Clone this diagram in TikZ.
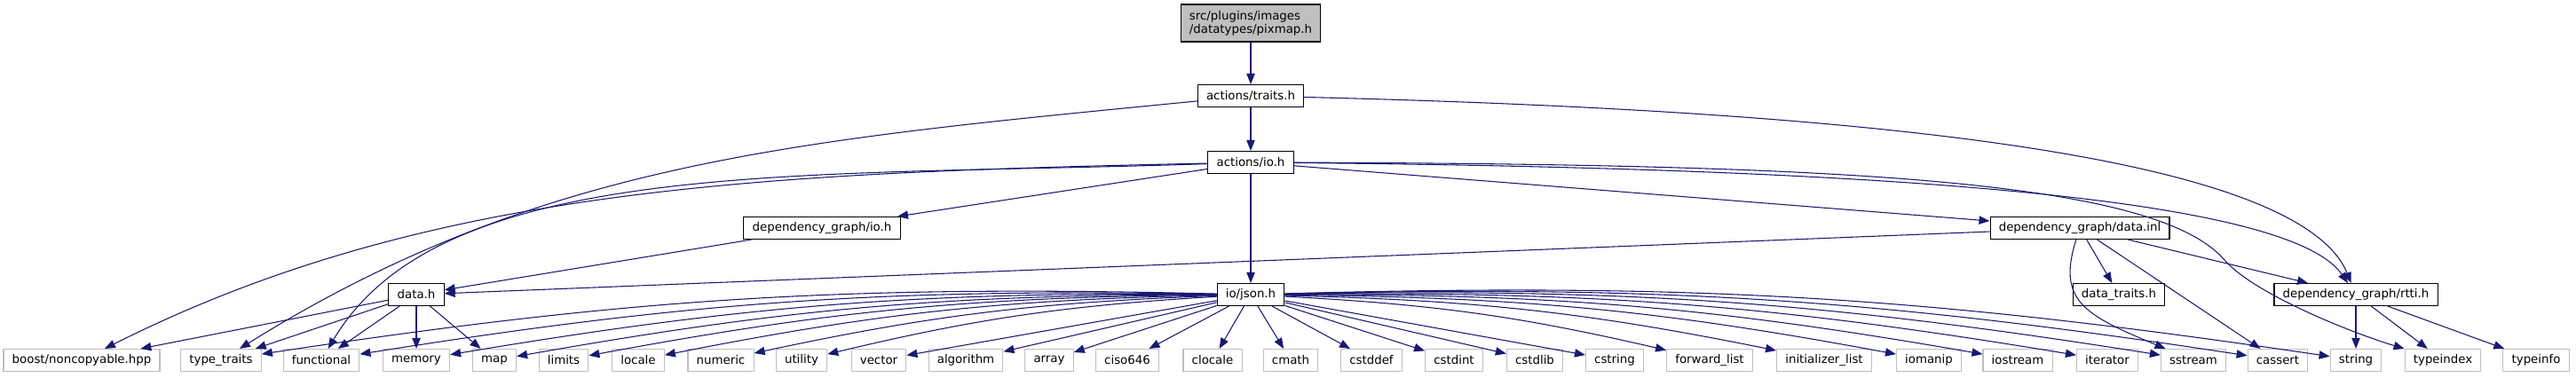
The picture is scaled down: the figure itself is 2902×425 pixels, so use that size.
\documentclass[tikz,border=0pt]{standalone}
\usepackage{fontspec}
\setmainfont{DejaVu Sans}
\usetikzlibrary{positioning,arrows.meta}
\definecolor{edg}{HTML}{191970}
\definecolor{sysl}{HTML}{BFBFBF}
\definecolor{cur}{HTML}{BFBFBF}
\tikzset{
  hfile/.style={draw, fill=white, line width=0.8pt, minimum height=18.75pt, inner xsep=7.3pt, inner ysep=0pt, font=\fontsize{10}{11.25}\selectfont},
  sysh/.style={hfile, draw=sysl},
  curh/.style={hfile, fill=cur, align=left, minimum height=31.5pt},
  inc/.style={draw=edg, line width=0.8pt, -{Triangle[length=9pt, width=7pt]}}}

\begin{document}
\begin{tikzpicture}[x=0.75pt, y=0.75pt]
\useasboundingbox (0,0) rectangle (2902,425);
% the file and the project headers
\node[curh] (pixmap) at (1409,399) {src/plugins/images\\/datatypes/pixmap.h};
\node[hfile] (traits) at (1409,317) {actions/traits.h};
\node[hfile] (io) at (1409,242) {actions/io.h};
\node[hfile] (dgio) at (926,168) {dependency\_graph/io.h};
\node[hfile] (dinl) at (2343,168) {dependency\_graph/data.inl};
\node[hfile] (datah) at (469,93) {data.h};
\node[hfile] (json) at (1409,93) {io/json.h};
\node[hfile] (dtraits) at (2387,93) {data\_traits.h};
\node[hfile] (rtti) at (2654,93) {dependency\_graph/rtti.h};
% system headers
\node[sysh] (boost) at (92,19) {boost/noncopyable.hpp};
\node[sysh] (tytr) at (249,19) {type\_traits};
\node[sysh] (fwdl) at (1926,19) {forward\_list};
\node[sysh] (initl) at (2055,19) {initializer\_list};
\foreach \t/\x in {functional/362, memory/469, map/557, limits/635, locale/719, numeric/812, utility/903, vector/990, algorithm/1088, array/1182, ciso646/1270, clocale/1366, cmath/1454, cstddef/1545, cstdint/1638, cstdlib/1729, cstring/1819, iomanip/2173, iostream/2273, iterator/2374, sstream/2471, cassert/2566, string/2654, typeindex/2752, typeinfo/2857}
  \node[sysh] (\t) at (\x,19) {\t};
% includes
\draw[inc] (pixmap) -- (traits);
\draw[inc] (traits) -- (io);
\draw[inc] (traits) .. controls +(-509,-50) and +(361,225) .. (tytr);
\draw[inc] (traits) .. controls +(691,-17) and +(-64,157) .. (rtti);
\draw[inc] (io) .. controls +(-559,-12) and +(388,195) .. (boost);
\draw[inc] (io) .. controls +(-509,-17) and +(136,230) .. (functional);
\draw[inc] (io) -- (dgio);
\draw[inc] (io) -- (json);
\draw[inc] (io) -- (dinl);
\draw[inc] (io) .. controls +(741,-7) and +(-74,107) .. (rtti);
\coordinate (bendidx) at (2506,132);
\draw[inc] (io) .. controls +(690,-2) and +(-76,88) .. (bendidx) .. controls +(34,-39) and +(-100,30) .. (typeindex);
\draw[inc] (dgio) -- (datah);
\draw[inc] (dinl) -- (datah);
\draw[inc] (dinl) -- (dtraits);
\draw[inc] (dinl) .. controls +(-26,-82) and +(-123,51) .. (sstream);
\draw[inc] (dinl) -- (cassert);
\draw[inc] (dinl) -- (rtti);
\foreach \t in {string,typeindex,typeinfo} \draw[inc] (rtti) -- (\t);
\foreach \t in {boost,tytr,functional,memory,map} \draw[inc] (datah) -- (\t);
\foreach \t in {tytr,functional,memory,map,limits,locale,numeric,utility} \draw[inc] (json) to[bend right=5] (\t);
\foreach \t in {vector,algorithm,array,ciso646,clocale,cmath,cstddef,cstdint,cstdlib,cstring} \draw[inc] (json) -- (\t);
\foreach \t in {fwdl,initl,iomanip,iostream,iterator,sstream,cassert,string} \draw[inc] (json) to[bend left=5] (\t);
\end{tikzpicture}
\end{document}
